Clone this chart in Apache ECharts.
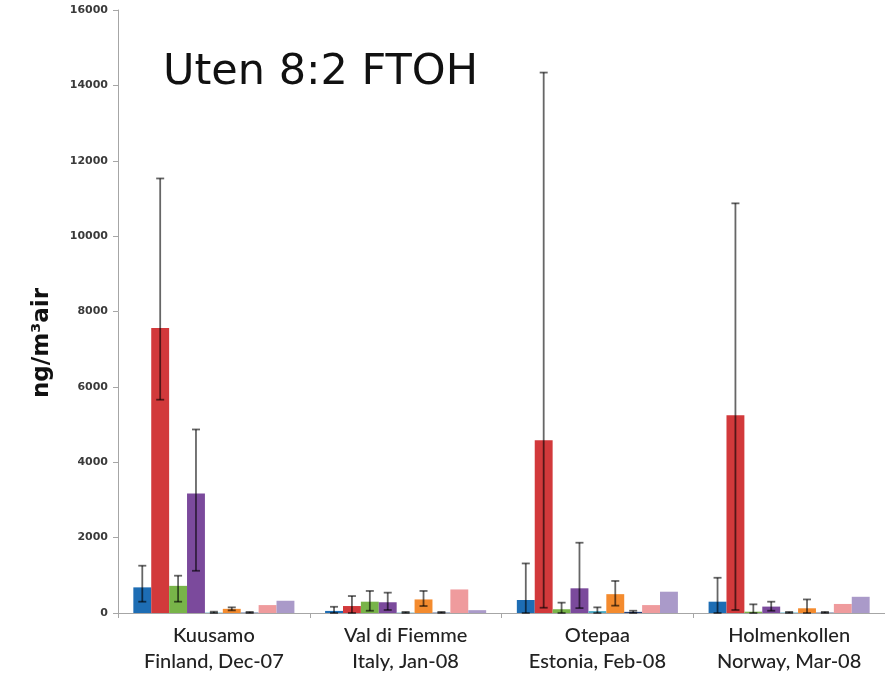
<!DOCTYPE html>
<html>
<head>
<meta charset="utf-8">
<title>Uten 8:2 FTOH</title>
<script src="https://cdn.jsdelivr.net/npm/echarts@6/dist/echarts.min.js"></script>
<style>
  html, body { margin: 0; padding: 0; background: #ffffff; }
  #chart { width: 885px; height: 677px; }
</style>
</head>
<body>
<div id="chart"></div>
<script>
// Sampling sites (two-line axis labels)
const categories = [
  'Kuusamo\nFinland, Dec-07',
  'Val di Fiemme\nItaly, Jan-08',
  'Otepaa\nEstonia, Feb-08',
  'Holmenkollen\nNorway, Mar-08'
];

// Y axis ticks (ng/m³ air)
const yMin = 0;
const yMax = 16000;
const yStep = 2000;

// Mean concentrations per series, one value per site
const serie1 = [680, 55, 345, 300];
const serie2 = [7560, 185, 4585, 5250];
const serie3 = [720, 300, 100, 35];
const serie4 = [3170, 285, 655, 170];
const serie5 = [10, 10, 50, 12];
const serie6 = [110, 360, 500, 125];
const serie7 = [10, 10, 30, 10];
const serie8 = [210, 625, 210, 240];
const serie9 = [325, 75, 565, 430];

// Error bar ends (lower / upper), null = no error bar
const serie1Low  = [300, 0, 0, 0];
const serie1High = [1255, 165, 1315, 935];
const serie2Low  = [5660, 0, 140, 80];
const serie2High = [11530, 450, 14340, 10870];
const serie3Low  = [300, 60, 0, 0];
const serie3High = [990, 585, 275, 230];
const serie4Low  = [1120, 80, 130, 60];
const serie4High = [4870, 540, 1865, 300];
const serie5Low  = [0, 0, 0, 0];
const serie5High = [35, 30, 150, 30];
const serie6Low  = [70, 185, 195, 0];
const serie6High = [150, 585, 850, 360];
const serie7Low  = [0, 0, 0, 0];
const serie7High = [30, 30, 60, 30];

const seriesValues = [serie1, serie2, serie3, serie4, serie5, serie6, serie7, serie8, serie9];
const seriesLow  = [serie1Low, serie2Low, serie3Low, serie4Low, serie5Low, serie6Low, serie7Low, null, null];
const seriesHigh = [serie1High, serie2High, serie3High, serie4High, serie5High, serie6High, serie7High, null, null];
const seriesNames = ['Serie 1', 'Serie 2', 'Serie 3', 'Serie 4', 'Serie 5', 'Serie 6', 'Serie 7', 'Serie 8', 'Serie 9'];
const colors = ['#1d6db4', '#d2393b', '#78b449', '#7b4a9c', '#4aa9c4', '#f48b2e', '#23407a', '#ef9b9d', '#aa9ac9'];

const CATEGORY_GAP = 0.16;

// Flatten error bars into [categoryIndex, seriesIndex, low, high]
const errorData = [];
seriesLow.forEach((lows, s) => {
  if (!lows) return;
  lows.forEach((low, c) => {
    errorData.push([c, s, low, seriesHigh[s][c]]);
  });
});

const chart = echarts.init(document.getElementById('chart'), null, { renderer: 'canvas' });

const barSeries = seriesValues.map((vals, i) => ({
  name: seriesNames[i],
  type: 'bar',
  data: vals,
  barGap: '0%',
  barCategoryGap: (CATEGORY_GAP * 100) + '%',
  itemStyle: { color: colors[i] },
  emphasis: { disabled: true }
}));

const errorSeries = {
  type: 'custom',
  name: 'error',
  data: errorData,
  encode: { x: 0, y: [2, 3] },
  z: 10,
  silent: true,
  renderItem: function (params, api) {
    const c = api.value(0);
    const s = api.value(1);
    const band = api.size([1, 0])[0];
    const used = band * (1 - CATEGORY_GAP);
    const bw = used / seriesValues.length;
    const cx = api.coord([c, 0])[0];
    const x = cx - used / 2 + bw * (s + 0.5);
    const yLow = api.coord([c, api.value(2)])[1];
    const yHigh = api.coord([c, api.value(3)])[1];
    const half = 4;
    const style = { stroke: 'rgba(0,0,0,0.6)', lineWidth: 1.8 };
    return {
      type: 'group',
      children: [
        { type: 'line', shape: { x1: x, y1: yLow, x2: x, y2: yHigh }, style: style },
        { type: 'line', shape: { x1: x - half, y1: yHigh, x2: x + half, y2: yHigh }, style: style },
        { type: 'line', shape: { x1: x - half, y1: yLow, x2: x + half, y2: yLow }, style: style }
      ]
    };
  }
};

chart.setOption({
  animation: false,
  backgroundColor: '#ffffff',
  title: {
    text: 'Uten 8:2 FTOH',
    left: 158,
    top: 46,
    textStyle: { fontFamily: 'DejaVu Sans', fontSize: 43, fontWeight: 'normal', color: '#111111' }
  },
  graphic: [{
    type: 'text',
    left: 31,
    top: 288,
    rotation: Math.PI / 2,
    style: {
      text: 'ng/m³air',
      font: 'bold 23px "DejaVu Sans"',
      fill: '#111111'
    }
  }],
  grid: { left: 118, top: 10, width: 786, bottom: 64 },
  xAxis: {
    type: 'category',
    data: categories,
    axisLine: { lineStyle: { color: '#a6a6a6', width: 1 } },
    axisTick: { show: true, alignWithLabel: false, length: 5, lineStyle: { color: '#a6a6a6' } },
    axisLabel: {
      interval: 0,
      margin: 10,
      fontFamily: 'Lato',
      fontSize: 20,
      fontWeight: 500,
      lineHeight: 26,
      color: '#222222'
    }
  },
  yAxis: {
    type: 'value',
    min: yMin,
    max: yMax,
    interval: yStep,
    splitLine: { show: false },
    axisLine: { show: true, lineStyle: { color: '#a6a6a6', width: 1 } },
    axisTick: { show: true, length: 5, lineStyle: { color: '#a6a6a6' } },
    axisLabel: {
      margin: 10,
      fontFamily: 'DejaVu Sans',
      fontWeight: 'bold',
      fontSize: 11,
      color: '#3a3a3a',
      formatter: function (v) { return String(v); }
    }
  },
  series: barSeries.concat([errorSeries])
});
</script>
</body>
</html>
